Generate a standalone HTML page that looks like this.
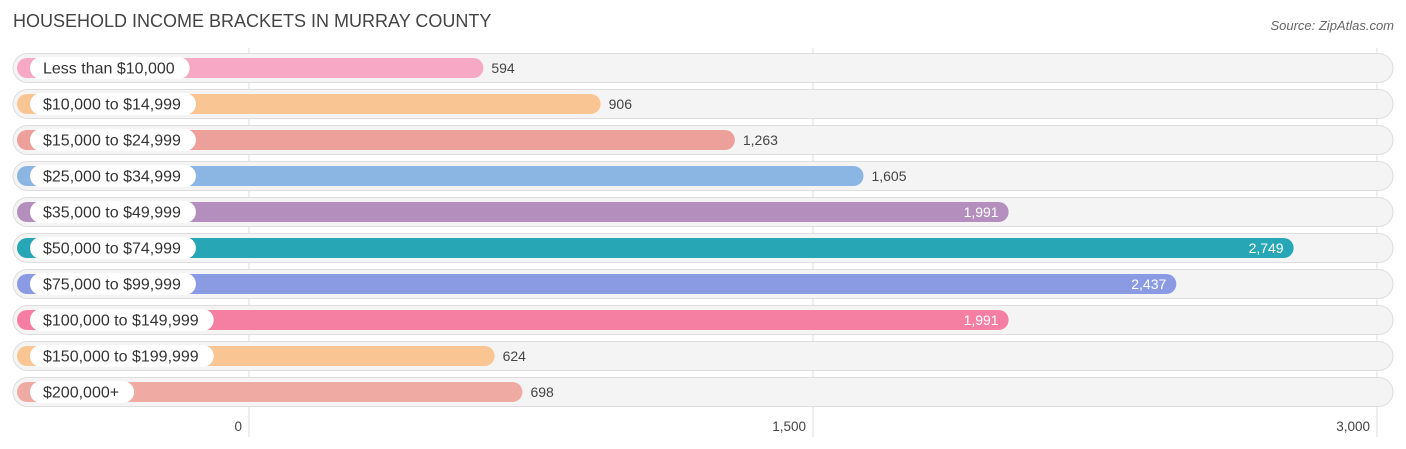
<!DOCTYPE html>
<html><head><meta charset="utf-8"><style>
body{margin:0;background:#fff;font-family:"Liberation Sans",sans-serif}
svg{display:block}
</style></head><body>
<svg id="c" width="1406" height="449">
<text x="13" y="27" font-size="18" fill="#444">HOUSEHOLD INCOME BRACKETS IN MURRAY COUNTY</text>
<text x="1394" y="30" font-size="13" fill="#666" font-style="italic" text-anchor="end">Source: ZipAtlas.com</text>
</svg>
<script>
const categories=["Less than $10,000","$10,000 to $14,999","$15,000 to $24,999","$25,000 to $34,999","$35,000 to $49,999","$50,000 to $74,999","$75,000 to $99,999","$100,000 to $149,999","$150,000 to $199,999","$200,000+"];
const values=[594,906,1263,1605,1991,2749,2437,1991,624,698];
const colors=["#f7a8c4","#f9c593","#eda09a","#8bb5e3","#b48fbe","#27a6b5","#8a9be4","#f57fa2","#f9c593","#efaaa4"];
const ticks=[0,1500,3000];
const tickLabels=["0","1,500","3,000"];
const ns="http://www.w3.org/2000/svg",svg=document.getElementById('c');
const x=v=>249+v*0.376, xb=v=>260+v*0.376, y=i=>68+i*36;
function mk(t,a,p){const e=document.createElementNS(ns,t);for(const k in a)e.setAttribute(k,a[k]);(p||svg).appendChild(e);return e;}
ticks.forEach((t,i)=>{
 const l=mk('line',{x1:x(t),x2:x(t),y1:48,y2:437,stroke:'#ddd','stroke-width':1});
 
 
 const tx=mk('text',{x:x(t)-7,y:431,'font-size':13.5,fill:'#444','text-anchor':'end'});
 tx.textContent=tickLabels[i];
 
 
});
categories.forEach((c,i)=>{
 const cy=y(i);
 const g=mk('g',{});
 
 
 const bg=mk('rect',{x:13,y:cy-14.5,width:1380,height:29,rx:14.5,fill:'#f4f4f4',stroke:'#ddd'},g);
 
 
 const end=xb(values[i]);
 const b=mk('rect',{x:17,y:cy-10,width:end-17,height:20,rx:10,fill:colors[i]},g);
 
 
 const lp=mk('rect',{x:30,y:cy-11,width:10,height:22,rx:11,fill:'#fff'},g);
 
 
 const lt=mk('text',{x:43,y:cy+5.5,'font-size':16,fill:'#333'},g);
 lt.textContent=c;
 
 
 lp.setAttribute('width',lt.getComputedTextLength()+28);
 const inside=values[i]>=1900;
 const vt=mk('text',{x:inside?end-10:end+8,y:cy+5,'font-size':14,fill:inside?'#fff':'#444','text-anchor':inside?'end':'start'},g);
 vt.textContent=values[i].toLocaleString('en-US');
 
 
});
</script>
</body></html>
